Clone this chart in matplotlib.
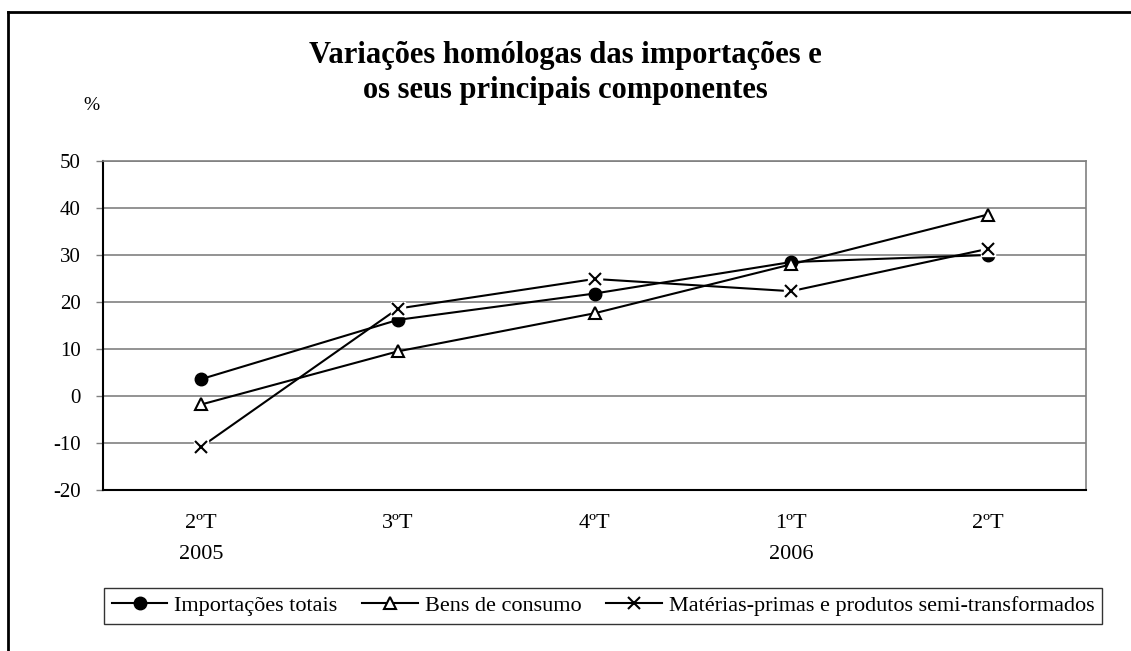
import matplotlib.pyplot as plt
from matplotlib.lines import Line2D

# quarters on the x axis
quarters = ["2ºT\n2005", "3ºT", "4ºT", "1ºT\n2006", "2ºT"]

# year-on-year change (%)
importacoes_totais = [3.6, 16.2, 21.8, 28.5, 30.0]
bens_consumo = [-1.8, 9.5, 17.6, 28.0, 38.6]
materias_primas = [-10.8, 18.6, 24.9, 22.3, 31.3]

plt.rcParams['font.family'] = ['Liberation Serif', 'DejaVu Serif']
plt.rcParams['axes.unicode_minus'] = False

W, H = 1131, 651
fig = plt.figure(figsize=(W / 100, H / 100), dpi=100)
ax = fig.add_axes([103 / W, 1 - 490 / H, 983 / W, 329 / H])

x = list(range(len(quarters)))

# series 1 - filled circle
ax.plot(x, importacoes_totais, color='black', lw=1.5, marker='o', ms=9,
        mfc='black', mec='black', zorder=3)
# series 2 - hollow triangle
ax.plot(x, bens_consumo, color='black', lw=1.5, marker='^', ms=9,
        mfc='white', mec='black', mew=1.5, zorder=4)
# series 3 - cross on a white square (excel style)
ax.plot(x, materias_primas, color='black', lw=1.5, zorder=5)
ax.plot(x, materias_primas, ls='none', marker='s', ms=10, mfc='white', mec='white', zorder=6)
ax.plot(x, materias_primas, ls='none', marker='x', ms=9, mec='black', mew=1.5, zorder=7)

ax.set_xlim(-0.5, len(quarters) - 0.5)
ax.set_ylim(-20, 50)
ax.set_yticks(range(-20, 51, 10))
ax.set_xticks(x)
ax.set_xticklabels(quarters, fontsize=16, linespacing=1.9)
ax.tick_params(axis='x', length=0, pad=17)
ax.tick_params(axis='y', length=5, width=1, direction='out', pad=11, labelsize=15, color='#808080')
ax.yaxis.grid(True, color='#808080', lw=1.2)
ax.set_axisbelow(True)

ax.spines['left'].set_color('black')
ax.spines['left'].set_linewidth(1.5)
ax.spines['bottom'].set_color('black')
ax.spines['bottom'].set_linewidth(1.5)
for side in ['top', 'right']:
    ax.spines[side].set_color('#808080')
    ax.spines[side].set_linewidth(1.2)

fig.text(565 / W, 1 - 63 / H, "Variações homólogas das importações e",
         ha='center', va='baseline', fontsize=22, fontweight='bold')
fig.text(565 / W, 1 - 98 / H, "os seus principais componentes",
         ha='center', va='baseline', fontsize=22, fontweight='bold')
fig.text(91 / W, 1 - 106 / H, "%", ha='center', va='center', fontsize=14)

handles = [
    Line2D([], [], color='black', lw=1.5, marker='o', ms=9, mfc='black'),
    Line2D([], [], color='black', lw=1.5, marker='^', ms=9, mfc='white', mew=1.5),
    Line2D([], [], color='black', lw=1.5, marker='x', ms=9, mew=1.5),
]
labels = ["Importações totais", "Bens de consumo",
          "Matérias-primas e produtos semi-transformados"]
leg = fig.legend(handles, labels, loc='center left', ncol=3, fontsize=16,
                 bbox_to_anchor=(104 / W, 1 - 628 / H, 998 / W, 44 / H),
                 mode='expand', frameon=True, fancybox=False, edgecolor='black',
                 handlelength=2.5, handletextpad=0.3, columnspacing=0.7,
                 borderpad=0.35, borderaxespad=0)
leg.get_frame().set_linewidth(1.0)

# outer chart border (top and left only, rest is cropped)
fig.add_artist(Line2D([8 / W, 1], [1 - 12 / H, 1 - 12 / H], color='black', lw=2))
fig.add_artist(Line2D([8 / W, 8 / W], [0, 1 - 12 / H], color='black', lw=2))

fig.savefig("out.png", dpi=100)
